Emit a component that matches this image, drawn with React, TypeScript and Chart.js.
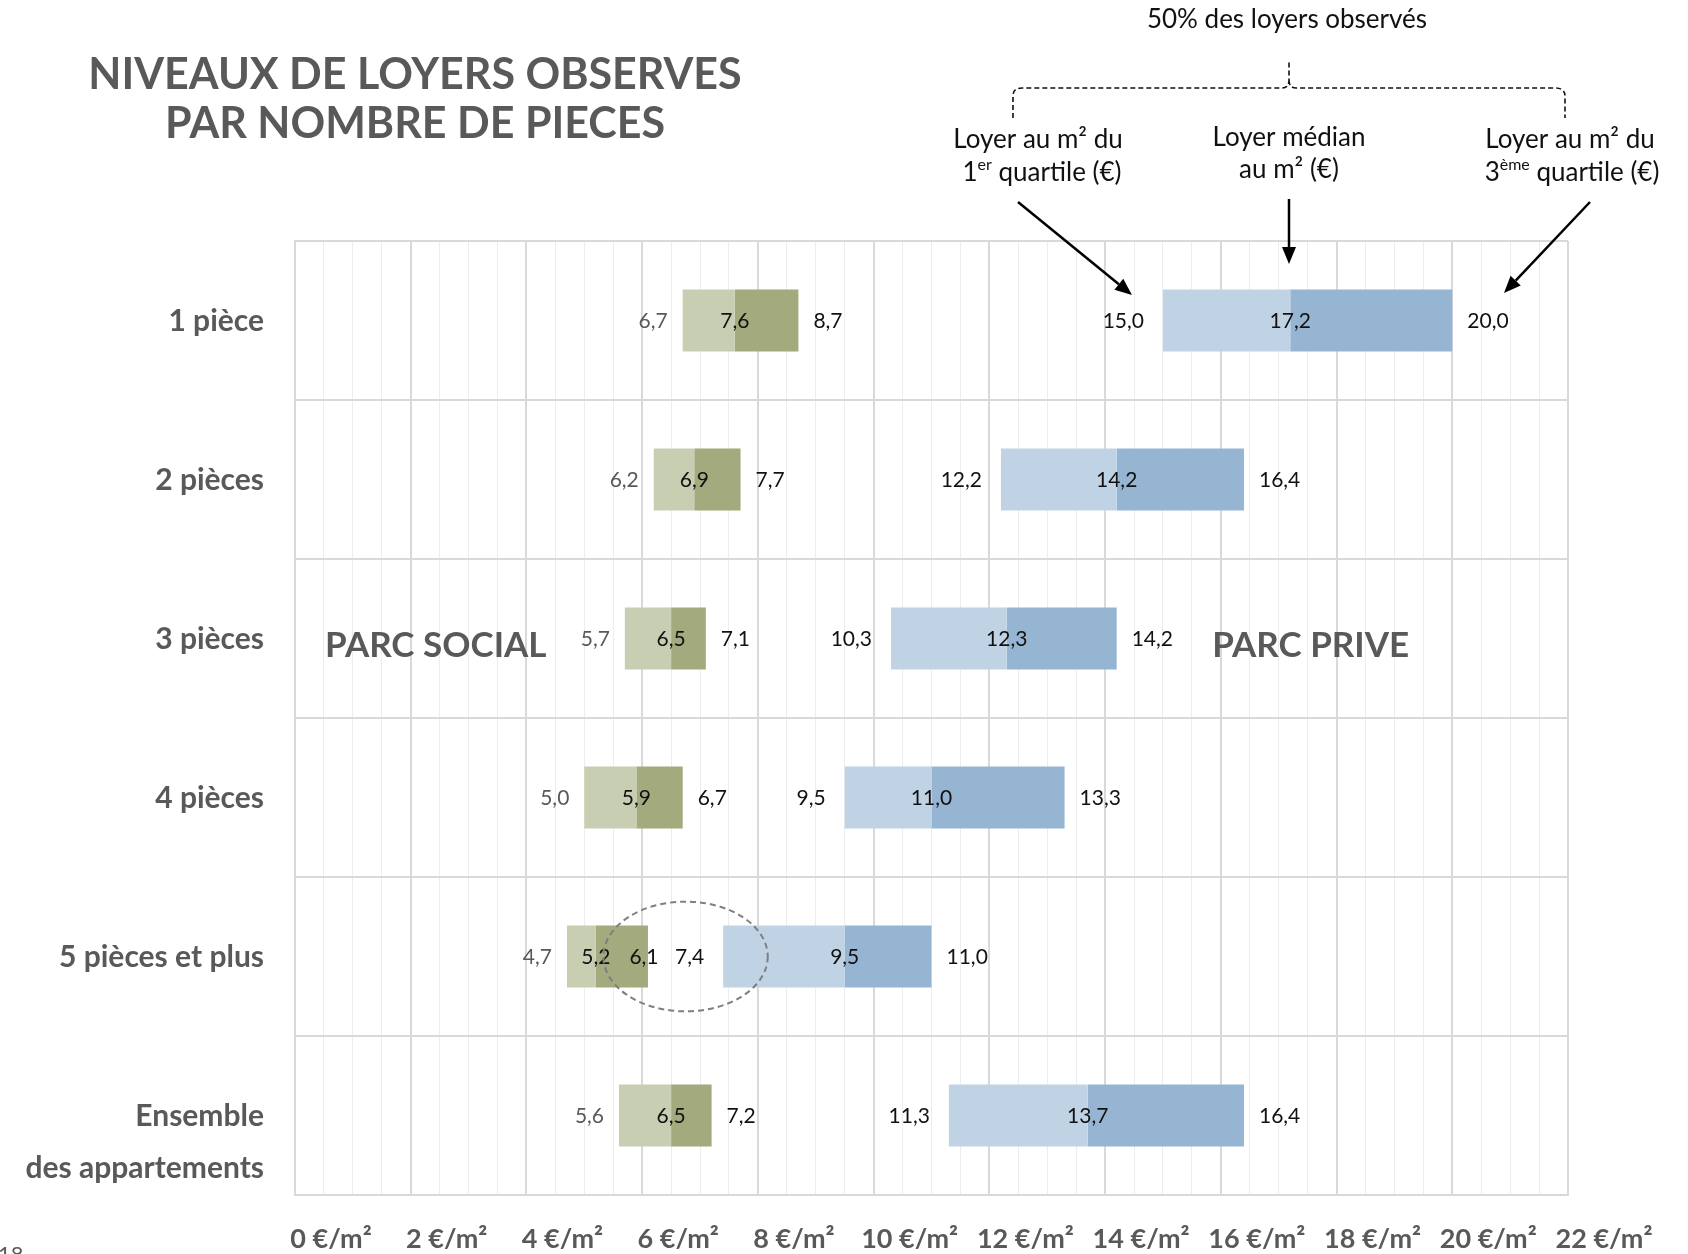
import React, { useEffect, useRef } from "react";
import { Chart, registerables } from "chart.js";

Chart.register(...registerables);

// ---------- DATA ----------
const categories = ["1 pièce", "2 pièces", "3 pièces", "4 pièces", "5 pièces et plus", "Ensemble des appartements"];
const categoryLines = [["1 pièce"], ["2 pièces"], ["3 pièces"], ["4 pièces"], ["5 pièces et plus"], ["Ensemble", "des appartements"]];

const socialQ1 = [6.7, 6.2, 5.7, 5.0, 4.7, 5.6];
const socialMedian = [7.6, 6.9, 6.5, 5.9, 5.2, 6.5];
const socialQ3 = [8.7, 7.7, 7.1, 6.7, 6.1, 7.2];

const privateQ1 = [15.0, 12.2, 10.3, 9.5, 7.4, 11.3];
const privateMedian = [17.2, 14.2, 12.3, 11.0, 9.5, 13.7];
const privateQ3 = [20.0, 16.4, 14.2, 13.3, 11.0, 16.4];

const xMin = 0;
const xMax = 22;
const xMajorStep = 2;
const xMinorStep = 0.5;
const xTickUnit = "€/m²";

const titleLines = ["NIVEAUX DE LOYERS OBSERVES", "PAR NOMBRE DE PIECES"];
const sectionLabels = ["PARC SOCIAL", "PARC PRIVE"];
const highlightCategory = 4; // "5 pièces et plus"
const highlightRange = [5.33, 8.17]; // value range circled by the dashed ellipse

const fmt = (v: number) => v.toFixed(1).replace(".", ",");

const FONT = "Lato, 'Open Sans', sans-serif";

function drawRich(ctx: CanvasRenderingContext2D, segs: [string, boolean][], cx: number, cy: number, size: number) {
  const supSize = Math.round(size * 0.6);
  let total = 0;
  const widths = segs.map(([t, sup]) => {
    ctx.font = `${sup ? supSize : size}px ${FONT}`;
    const w = ctx.measureText(t).width;
    total += w;
    return w;
  });
  let x = cx - total / 2;
  ctx.textAlign = "left";
  segs.forEach(([t, sup], i) => {
    ctx.font = `${sup ? supSize : size}px ${FONT}`;
    ctx.fillText(t, x, sup ? cy - size * 0.33 : cy);
    x += widths[i];
  });
}

function arrow(ctx: CanvasRenderingContext2D, x1: number, y1: number, x2: number, y2: number) {
  const ang = Math.atan2(y2 - y1, x2 - x1);
  const head = 17;
  const hw = 7;
  const bx = x2 - head * Math.cos(ang);
  const by = y2 - head * Math.sin(ang);
  ctx.beginPath();
  ctx.moveTo(x1, y1);
  ctx.lineTo(bx, by);
  ctx.stroke();
  ctx.beginPath();
  ctx.moveTo(x2, y2);
  ctx.lineTo(bx + hw * Math.sin(ang), by - hw * Math.cos(ang));
  ctx.lineTo(bx - hw * Math.sin(ang), by + hw * Math.cos(ang));
  ctx.closePath();
  ctx.fill();
}

const overlayPlugin = {
  id: "overlay",
  afterDraw(chart: any) {
    const { ctx, chartArea } = chart;
    const xs = chart.scales.x;
    const ys = chart.scales.y;
    ctx.save();

    // Category labels
    ctx.font = `bold 30px ${FONT}`;
    ctx.fillStyle = "#595959";
    ctx.textAlign = "right";
    ctx.textBaseline = "middle";
    categoryLines.forEach((lines, i) => {
      const cy = ys.getPixelForValue(i);
      lines.forEach((t, k) => ctx.fillText(t, chartArea.left - 31, cy + 1 + k * 52));
    });

    // X tick labels
    ctx.font = `bold 27px ${FONT}`;
    ctx.textAlign = "center";
    xs.ticks.forEach((t: any) => {
      if (Math.abs(t.value % xMajorStep) < 1e-9) {
        ctx.fillText(`${t.value} ${xTickUnit}`, xs.getPixelForValue(t.value) + 36, chartArea.bottom + 44);
      }
    });

    // Value labels
    ctx.font = `21px ${FONT}`;
    ctx.textBaseline = "middle";
    const gap = 15;
    categories.forEach((_, i) => {
      const cy = ys.getPixelForValue(i) + 1;
      // social
      ctx.fillStyle = "#595959";
      ctx.textAlign = "right";
      ctx.fillText(fmt(socialQ1[i]), xs.getPixelForValue(socialQ1[i]) - gap, cy);
      ctx.fillStyle = "#111";
      ctx.textAlign = "center";
      ctx.fillText(fmt(socialMedian[i]), xs.getPixelForValue(socialMedian[i]), cy);
      // check collision of social Q3 label with private Q1 label
      const sq3 = fmt(socialQ3[i]);
      const pq1 = fmt(privateQ1[i]);
      const sq3w = ctx.measureText(sq3).width;
      const pq1w = ctx.measureText(pq1).width;
      const sq3Right = xs.getPixelForValue(socialQ3[i]) + gap + sq3w;
      const pq1Left = xs.getPixelForValue(privateQ1[i]) - gap - pq1w;
      if (sq3Right + 4 > pq1Left) {
        ctx.textAlign = "center";
        ctx.fillText(sq3, xs.getPixelForValue(socialQ3[i]) - 4, cy);
      } else {
        ctx.textAlign = "left";
        ctx.fillText(sq3, xs.getPixelForValue(socialQ3[i]) + gap, cy);
      }
      // private
      ctx.textAlign = "right";
      ctx.fillText(pq1, xs.getPixelForValue(privateQ1[i]) - gap - 4, cy);
      ctx.textAlign = "center";
      ctx.fillText(fmt(privateMedian[i]), xs.getPixelForValue(privateMedian[i]), cy);
      ctx.textAlign = "left";
      ctx.fillText(fmt(privateQ3[i]), xs.getPixelForValue(privateQ3[i]) + gap, cy);
    });

    // Section labels
    ctx.font = `bold 35px ${FONT}`;
    ctx.fillStyle = "#595959";
    ctx.textAlign = "left";
    const secY = ys.getPixelForValue(2) + 7;
    ctx.fillText(sectionLabels[0], chartArea.left + 30, secY);
    ctx.fillText(sectionLabels[1], xs.getPixelForValue(15.85), secY);

    // Dashed ellipse
    const cx = xs.getPixelForValue((highlightRange[0] + highlightRange[1]) / 2);
    const rx = (xs.getPixelForValue(highlightRange[1]) - xs.getPixelForValue(highlightRange[0])) / 2;
    const rowH = Math.abs(ys.getPixelForValue(1) - ys.getPixelForValue(0));
    const ey = ys.getPixelForValue(highlightCategory);
    ctx.strokeStyle = "#7f7f7f";
    ctx.lineWidth = 2;
    ctx.setLineDash([6, 4]);
    ctx.beginPath();
    ctx.ellipse(cx, ey, rx, rowH * 0.345, 0, 0, Math.PI * 2);
    ctx.stroke();
    ctx.setLineDash([]);

    // Title
    ctx.font = `bold 43px ${FONT}`;
    ctx.fillStyle = "#595959";
    ctx.textAlign = "center";
    ctx.textBaseline = "middle";
    ctx.fillText(titleLines[0], 415, 75);
    ctx.fillText(titleLines[1], 415, 124);

    // Annotations
    ctx.fillStyle = "#111";
    ctx.textBaseline = "middle";
    ctx.font = `26px ${FONT}`;
    ctx.textAlign = "center";
    ctx.fillText("50% des loyers observés", 1287, 20);
    drawRich(ctx, [["Loyer au m² du", false]], 1038, 140, 26);
    drawRich(ctx, [["1", false], ["er", true], [" quartile (€)", false]], 1042, 173, 26);
    drawRich(ctx, [["Loyer médian", false]], 1289, 138, 26);
    drawRich(ctx, [["au m² (€)", false]], 1289, 170, 26);
    drawRich(ctx, [["Loyer au m² du", false]], 1570, 140, 26);
    drawRich(ctx, [["3", false], ["ème", true], [" quartile (€)", false]], 1572, 173, 26);

    // Brace (dashed)
    ctx.strokeStyle = "#111";
    ctx.lineWidth = 1.6;
    ctx.setLineDash([5, 3]);
    ctx.beginPath();
    ctx.moveTo(1013, 118);
    ctx.lineTo(1013, 96);
    ctx.quadraticCurveTo(1013, 88, 1022, 88);
    ctx.lineTo(1282, 88);
    ctx.quadraticCurveTo(1289, 88, 1289, 80);
    ctx.lineTo(1289, 60);
    ctx.moveTo(1289, 80);
    ctx.quadraticCurveTo(1289, 88, 1296, 88);
    ctx.lineTo(1555, 88);
    ctx.quadraticCurveTo(1565, 88, 1565, 96);
    ctx.lineTo(1565, 118);
    ctx.stroke();
    ctx.setLineDash([]);

    // Arrows
    ctx.lineWidth = 2.5;
    ctx.fillStyle = "#000";
    ctx.strokeStyle = "#000";
    arrow(ctx, 1018, 202, 1132, 295);
    arrow(ctx, 1289, 199, 1289, 264);
    arrow(ctx, 1590, 202, 1504, 293);

    // page number (cut off)
    ctx.font = `22px ${FONT}`;
    ctx.fillStyle = "#595959";
    ctx.textAlign = "left";
    ctx.textBaseline = "top";
    ctx.fillText("18", -2, 1244);

    ctx.restore();
  },
};

export default function App() {
  const ref = useRef<HTMLCanvasElement | null>(null);

  useEffect(() => {
    if (!ref.current) return;
    const pair = (a: number[], b: number[]) => a.map((v, i) => [v, b[i]]);
    const common = {
      grouped: false,
      categoryPercentage: 1,
      barPercentage: 0.39,
      borderWidth: 0,
      borderSkipped: false,
    };
    const chart = new Chart(ref.current, {
      type: "bar",
      data: {
        labels: categories,
        datasets: [
          { label: "Parc social Q1-médiane", data: pair(socialQ1, socialMedian) as any, backgroundColor: "#c8ceb2", ...common },
          { label: "Parc social médiane-Q3", data: pair(socialMedian, socialQ3) as any, backgroundColor: "#a3aa7d", ...common },
          { label: "Parc privé Q1-médiane", data: pair(privateQ1, privateMedian) as any, backgroundColor: "#c0d3e5", ...common },
          { label: "Parc privé médiane-Q3", data: pair(privateMedian, privateQ3) as any, backgroundColor: "#95b5d3", ...common },
        ],
      },
      options: {
        indexAxis: "y",
        animation: false,
        responsive: false,
        devicePixelRatio: 1,
        layout: { padding: { left: 295, right: 120, top: 241, bottom: 59 } },
        plugins: { legend: { display: false }, tooltip: { enabled: false }, title: { display: false } },
        scales: {
          x: {
            type: "linear",
            min: xMin,
            max: xMax,
            ticks: { display: false, stepSize: xMinorStep },
            grid: {
              drawTicks: false,
              color: (c: any) => (Math.abs(c.tick.value % xMajorStep) < 1e-9 ? "#d9d9d9" : "#ededed"),
              lineWidth: (c: any) => (Math.abs(c.tick.value % xMajorStep) < 1e-9 ? 2 : 1),
            },
            border: { display: true, color: "#d9d9d9", width: 2 },
          },
          y: {
            type: "category",
            ticks: { display: false },
            grid: { offset: true, drawTicks: false, color: "#d9d9d9", lineWidth: 2 },
            border: { display: true, color: "#d9d9d9", width: 2 },
          },
        },
      } as any,
      plugins: [overlayPlugin],
    });
    return () => chart.destroy();
  }, []);

  return (
    <div style={{ position: "absolute", left: 0, top: 0, width: 1688, height: 1254, background: "#fff", overflow: "hidden" }}>
      <canvas ref={ref} width={1688} height={1254} style={{ width: 1688, height: 1254, display: "block" }} />
    </div>
  );
}
